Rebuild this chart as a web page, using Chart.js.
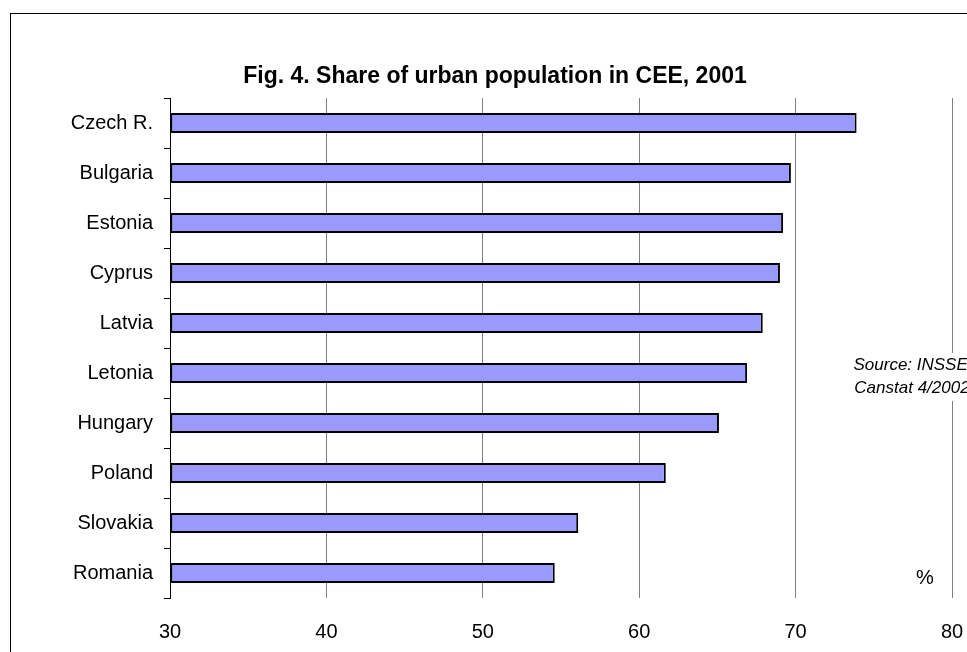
<!DOCTYPE html>
<html>
<head>
<meta charset="utf-8">
<script src="https://cdn.jsdelivr.net/npm/chart.js@4/dist/chart.umd.min.js"></script>
<style>
  body { margin: 0; background: #fff; }
  #wrap { width: 967px; height: 652px; }
</style>
</head>
<body>
<div id="wrap"><canvas id="urbanChart" width="967" height="652"></canvas></div>
<script>
// data
const countries = ['Czech R.', 'Bulgaria', 'Estonia', 'Cyprus', 'Latvia', 'Letonia', 'Hungary', 'Poland', 'Slovakia', 'Romania'];
const urbanShare = [73.9, 69.7, 69.2, 69.0, 67.9, 66.9, 65.1, 61.7, 56.1, 54.6];
const axisMin = 30;
const axisMax = 80;
const axisStep = 10;

const FONT = "'Liberation Sans', Arial, sans-serif";

// frame, title and notes drawn on top
const decorations = {
    id: 'decorations',
    afterDraw(chart) {
        const c = chart.ctx;
        c.save();
        c.strokeStyle = '#000';
        c.lineWidth = 1;
        c.strokeRect(10.5, 13.5, 1000, 1000);

        c.fillStyle = '#000';
        c.textAlign = 'center';
        c.textBaseline = 'middle';
        c.font = 'bold 23px ' + FONT;
        c.fillText('Fig. 4. Share of urban population in CEE, 2001', 495, 77);

        // source note sits over the 80 gridline
        c.fillStyle = '#fff';
        c.fillRect(842, 353, 125, 48);
        c.fillStyle = '#000';
        c.font = 'italic 17px ' + FONT;
        c.fillText('Source: INSSE,', 913, 365);
        c.fillText('Canstat 4/2002', 912, 388);

        c.font = '20px ' + FONT;
        c.fillText('%', 925, 578);
        c.restore();
    }
};

const ctx = document.getElementById('urbanChart').getContext('2d');
const urbanChart = new Chart(ctx, {
    type: 'bar',
    data: {
        labels: countries,
        datasets: [
            {
                data: urbanShare,
                base: axisMin,
                backgroundColor: '#9999ff',
                borderColor: '#000',
                borderWidth: 2,
                borderSkipped: false,
                categoryPercentage: 1,
                barPercentage: 0.4,
            }
        ]
    },
    options: {
        indexAxis: 'y',
        responsive: false,
        animation: false,
        layout: {
            padding: { top: 98, left: 0, right: 15, bottom: 0 }
        },
        plugins: {
            legend: { display: false },
            tooltip: { enabled: false }
        },
        scales: {
            x: {
                min: axisMin,
                max: axisMax,
                grid: { color: '#808080', lineWidth: 1, drawTicks: false },
                border: { display: false },
                ticks: {
                    stepSize: axisStep,
                    color: '#000',
                    padding: 22,
                    font: { family: FONT, size: 20 }
                },
                afterFit(scale) {
                    scale.height = 54;
                    scale.paddingLeft = 0;
                    scale.paddingRight = 0;
                }
            },
            y: {
                grid: { offset: true, drawOnChartArea: false, color: '#000', tickLength: 6 },
                border: { display: true, color: '#000', width: 1 },
                ticks: {
                    color: '#000',
                    padding: 11,
                    font: { family: FONT, size: 20 }
                },
                afterFit(scale) { scale.width = 170; }
            }
        }
    },
    plugins: [decorations]
});
</script>
</body>
</html>
